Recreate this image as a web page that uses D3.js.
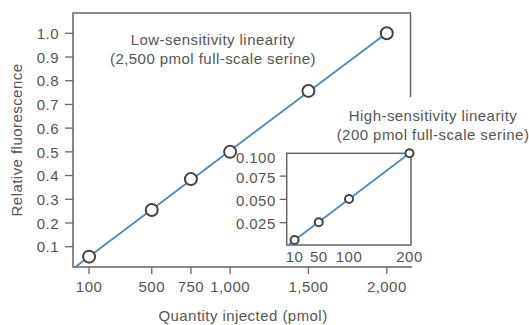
<!DOCTYPE html>
<html><head><meta charset="utf-8">
<script src="https://cdn.jsdelivr.net/npm/d3@7"></script>
<style>
body{margin:0;background:#fff;}
svg text{font-family:"Liberation Sans",Arial,Helvetica,sans-serif;fill:#555;letter-spacing:0.45px;}
</style></head>
<body><svg id="c" width="529" height="325"></svg>
<script>
// Main chart data (low sensitivity)
const mainQty = [100, 500, 750, 1000, 1500, 2000];
const mainFluor = [0.058, 0.255, 0.385, 0.50, 0.757, 1.0];
const mainXTicks = [100, 500, 750, 1000, 1500, 2000];
const mainYTicks = [0.1, 0.2, 0.3, 0.4, 0.5, 0.6, 0.7, 0.8, 0.9, 1.0];
// Inset data (high sensitivity)
const insetQty = [10, 50, 100, 200];
const insetFluor = [0.0064, 0.0254, 0.0504, 0.0995];
const insetXTicks = [10, 50, 100, 200];
const insetYTicks = [0.025, 0.050, 0.075, 0.100];

const svg = d3.select("#c");
const axisCol = "#666", lineCol = "#4f86b9", dotCol = "#444";
const FS = 15;

// main frame
const L = 73, T = 13, R = 410.5, B = 267;
const x = d3.scaleLinear().domain([0, 2150]).range([73.4, 410.3]);
const y = d3.scaleLinear().domain([0, 1]).range([270.4, 33.3]);

function fit(xs, ys){
  const n = xs.length, mx = d3.mean(xs), my = d3.mean(ys);
  let sxy = 0, sxx = 0;
  for (let i=0;i<n;i++){ sxy += (xs[i]-mx)*(ys[i]-my); sxx += (xs[i]-mx)**2; }
  const b = sxy/sxx; return {a: my - b*mx, b};
}

svg.append("clipPath").attr("id","mclip").append("rect")
  .attr("x",L).attr("y",T).attr("width",R-L).attr("height",B-T);

// frame lines
svg.append("path").attr("d",`M${R},97V${T}H${L}V${B}H412`)
  .attr("fill","none").attr("stroke",axisCol).attr("stroke-width",1.5);

// y axis ticks
const gy = svg.append("g");
mainYTicks.forEach(v=>{
  gy.append("line").attr("x1",L-8).attr("x2",L).attr("y1",y(v)).attr("y2",y(v))
    .attr("stroke",axisCol).attr("stroke-width",1.3);
  gy.append("text").attr("x",L-14).attr("y",y(v)+0.5).attr("dy","0.35em")
    .attr("text-anchor","end").attr("font-size",FS).text(d3.format(".1f")(v));
});
// x axis ticks
const gx = svg.append("g");
mainXTicks.forEach(v=>{
  gx.append("line").attr("x1",x(v)).attr("x2",x(v)).attr("y1",B).attr("y2",B+7)
    .attr("stroke",axisCol).attr("stroke-width",1.3);
  gx.append("text").attr("x",x(v)).attr("y",B+20).attr("dy","0.35em")
    .attr("text-anchor","middle").attr("font-size",FS).text(d3.format(",")(v));
});

// main fit line
const f1 = fit(mainQty, mainFluor);
svg.append("line").attr("clip-path","url(#mclip)")
  .attr("x1",x(0)).attr("y1",y(f1.a)).attr("x2",x(2000)).attr("y2",y(f1.a+f1.b*2000))
  .attr("stroke",lineCol).attr("stroke-width",1.8);

svg.append("g").selectAll("circle").data(mainQty).join("circle")
  .attr("cx",(d)=>x(d)).attr("cy",(d,i)=>y(mainFluor[i])).attr("r",6)
  .attr("fill","#fff").attr("stroke",dotCol).attr("stroke-width",2);

// labels
svg.append("text").attr("x",213).attr("y",40).attr("dy","0.35em").attr("text-anchor","middle")
  .attr("font-size",FS).text("Low-sensitivity linearity");
svg.append("text").attr("x",213).attr("y",59).attr("dy","0.35em").attr("text-anchor","middle")
  .attr("font-size",FS).text("(2,500 pmol full-scale serine)");
svg.append("text").attr("x",243).attr("y",316).attr("dy","0.35em").attr("text-anchor","middle")
  .attr("font-size",FS).text("Quantity injected (pmol)");
svg.append("text").attr("transform","translate(17,140) rotate(-90)").attr("dy","0.35em")
  .attr("text-anchor","middle").attr("font-size",FS).text("Relative fluorescence");

// inset
const iL = 286.7, iT = 153.3, iR = 411, iB = 245;
const ix = d3.scaleLinear().domain([-3, 200]).range([iL, 409.5]);
const iy = d3.scaleLinear().domain([0, 0.1]).range([246, 152.8]);

svg.append("text").attr("x",433).attr("y",116).attr("dy","0.35em").attr("text-anchor","middle")
  .attr("font-size",FS).text("High-sensitivity linearity");
svg.append("text").attr("x",433).attr("y",135).attr("dy","0.35em").attr("text-anchor","middle")
  .attr("font-size",FS).text("(200 pmol full-scale serine)");

svg.append("clipPath").attr("id","iclip").append("rect")
  .attr("x",iL).attr("y",iT).attr("width",iR-iL).attr("height",iB-iT);
svg.append("rect").attr("x",iL).attr("y",iT).attr("width",iR-iL).attr("height",iB-iT)
  .attr("fill","#fff").attr("stroke",axisCol).attr("stroke-width",1.5);

insetYTicks.forEach((v,i)=>{
  if (i < insetYTicks.length-1)
    svg.append("line").attr("x1",iL-7).attr("x2",iL).attr("y1",iy(v)).attr("y2",iy(v))
      .attr("stroke",axisCol).attr("stroke-width",1.3);
  svg.append("text").attr("x",iL-11).attr("y",iy(v)+(i===insetYTicks.length-1?5:1.5)).attr("dy","0.35em")
    .attr("text-anchor","end").attr("font-size",FS).text(d3.format(".3f")(v));
});
insetXTicks.forEach(v=>{
  svg.append("text").attr("x",ix(v)).attr("y",iB+12).attr("dy","0.35em")
    .attr("text-anchor","middle").attr("font-size",FS).text(v);
});

const f2 = fit(insetQty, insetFluor);
svg.append("line").attr("clip-path","url(#iclip)")
  .attr("x1",ix(-3)).attr("y1",iy(f2.a+f2.b*-3)).attr("x2",ix(200)).attr("y2",iy(f2.a+f2.b*200))
  .attr("stroke",lineCol).attr("stroke-width",1.8);
svg.append("g").selectAll("circle").data(insetQty).join("circle")
  .attr("cx",d=>ix(d)).attr("cy",(d,i)=>iy(insetFluor[i])).attr("r",4)
  .attr("fill","#fff").attr("stroke",dotCol).attr("stroke-width",2);
</script></body></html>
